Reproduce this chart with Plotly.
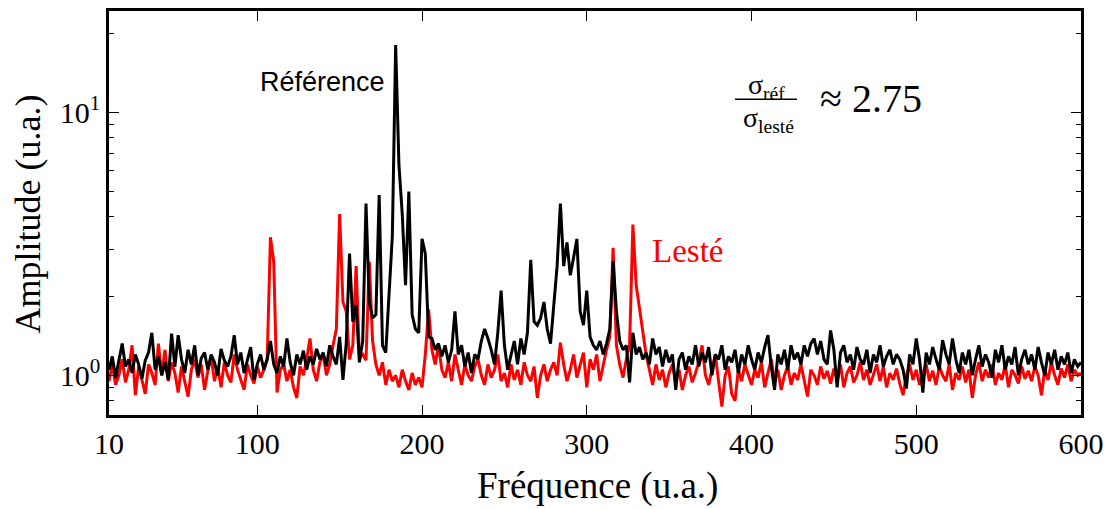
import plotly.graph_objects as go

# Frequency axis (u.a.), sampled every 2 units
freq = list(range(10, 601, 2))

# Référence spectrum (black)
ref = [
    1.05, 1.18, 0.98, 1.12, 1.32, 1.08, 1.15, 1.02, 1.20, 1.10,   # 10-28
    0.97, 1.14, 1.22, 1.45, 1.05, 1.18, 1.00, 1.12, 0.96, 1.44,   # 30-48
    1.08, 1.42, 1.15, 1.02, 1.25, 1.10, 1.30, 1.00, 1.16, 1.22,   # 50-68
    1.05, 1.20, 1.12, 1.00, 1.26, 1.14, 1.08, 1.18, 1.42, 1.10,   # 70-88
    1.22, 1.02, 1.15, 1.28, 0.96, 1.10, 1.20, 1.05, 1.15, 1.35,   # 90-108
    1.10, 1.02, 1.18, 1.08, 1.38, 1.12, 1.00, 1.20, 1.10, 1.24,   # 110-128
    1.05, 1.18, 1.10, 1.26, 1.15, 1.22, 1.08, 1.30, 1.18, 1.10,   # 130-148
    1.40, 0.96, 1.32, 2.90, 1.60, 1.85, 1.12, 1.35, 4.50, 1.90,   # 150-168
    1.65, 1.70, 4.85, 1.30, 1.22, 2.15, 3.40, 18.0, 6.30, 4.10,   # 170-188
    2.20, 5.00, 1.70, 1.50, 1.45, 3.30, 2.90, 1.40, 1.38, 1.25,   # 190-208
    1.32, 1.18, 1.30, 1.12, 1.25, 1.75, 1.20, 1.30, 1.08, 1.22,   # 210-228
    1.02, 1.20, 1.15, 1.35, 1.50, 1.38, 1.25, 1.10, 1.45, 2.10,   # 230-248
    1.30, 1.05, 1.20, 1.35, 1.10, 1.38, 1.20, 1.45, 2.75, 1.60,   # 250-268
    1.55, 1.65, 1.90, 1.50, 1.32, 1.90, 2.60, 4.50, 2.60, 3.20,   # 270-288
    2.40, 2.80, 3.30, 1.75, 1.55, 2.10, 1.40, 1.30, 1.25, 1.35,   # 290-308
    1.20, 1.32, 1.50, 2.72, 1.75, 1.35, 1.25, 1.30, 0.94, 1.45,   # 310-328
    1.20, 1.28, 1.15, 1.22, 1.10, 1.38, 1.20, 1.28, 1.08, 1.25,   # 330-348
    1.12, 1.20, 0.88, 1.15, 1.22, 1.05, 1.18, 1.10, 1.30, 1.08,   # 350-368
    1.22, 1.12, 1.28, 1.00, 1.20, 1.15, 1.30, 1.05, 1.18, 1.12,   # 370-388
    1.25, 1.02, 1.20, 1.10, 1.30, 1.15, 1.05, 1.22, 1.12, 1.28,   # 390-408
    1.42, 1.08, 0.88, 1.20, 1.10, 1.25, 1.05, 1.30, 1.15, 1.22,   # 410-428
    1.10, 1.30, 1.18, 1.32, 1.38, 1.20, 1.35, 1.15, 1.10, 1.48,   # 430-448
    1.25, 0.90, 1.22, 1.30, 1.12, 1.20, 1.05, 1.28, 1.15, 1.10,   # 450-468
    1.25, 1.02, 1.20, 1.12, 1.30, 1.08, 1.18, 1.25, 1.10, 1.20,   # 470-488
    1.15, 1.05, 0.89, 1.20, 1.10, 1.38, 1.15, 0.86, 1.22, 1.10,   # 490-508
    1.28, 1.15, 1.05, 1.36, 1.20, 1.10, 1.38, 1.15, 1.02, 1.22,   # 510-528
    1.10, 1.25, 1.00, 1.15, 1.30, 1.08, 1.20, 1.12, 0.98, 1.25,   # 530-548
    1.12, 1.30, 1.05, 1.18, 1.10, 1.28, 1.00, 1.15, 1.25, 1.10,   # 550-568
    1.20, 1.05, 1.28, 1.12, 1.00, 1.22, 1.10, 1.25, 1.05, 1.18,   # 570-588
    1.10, 1.22, 1.02, 1.15, 1.08, 1.12,                           # 590-600
]

# Lesté spectrum (red)
leste = [
    0.95, 1.10, 0.92, 1.00, 1.15, 0.94, 1.05, 1.30, 0.84, 1.08,   # 10-28
    0.96, 0.85, 1.10, 1.02, 0.92, 1.32, 1.00, 1.25, 0.95, 1.12,   # 30-48
    1.02, 0.86, 1.08, 0.94, 0.83, 1.05, 1.15, 0.98, 1.10, 0.88,   # 50-68
    1.04, 1.18, 0.95, 1.08, 0.90, 1.12, 1.00, 0.94, 1.20, 1.05,   # 70-88
    0.96, 0.88, 1.10, 1.00, 0.93, 1.08, 0.98, 1.05, 1.15, 3.35,   # 90-108
    2.70, 0.86, 1.05, 1.10, 0.95, 1.05, 0.90, 0.82, 1.08, 1.00,   # 110-128
    1.15, 1.38, 1.05, 0.95, 1.12, 1.20, 1.00, 1.10, 1.30, 1.50,   # 130-148
    4.10, 1.90, 1.75, 1.15, 1.30, 2.60, 1.17, 1.20, 1.14, 2.70,   # 150-168
    1.35, 1.10, 1.00, 1.12, 0.92, 1.05, 0.95, 1.00, 0.90, 1.05,   # 170-188
    0.95, 0.88, 1.02, 0.92, 0.98, 0.90, 1.20, 1.78, 1.25, 1.10,   # 190-208
    1.30, 1.05, 0.98, 1.12, 0.95, 1.20, 1.05, 0.92, 1.10, 1.00,   # 210-228
    0.95, 1.08, 1.15, 1.00, 0.92, 1.10, 0.98, 1.05, 1.20, 0.95,   # 230-248
    1.02, 0.90, 1.10, 0.96, 1.05, 0.92, 1.12, 1.00, 0.95, 1.08,   # 250-268
    0.82, 1.00, 1.10, 0.95, 1.05, 1.12, 1.00, 1.33, 1.10, 0.95,   # 270-288
    1.05, 1.20, 0.98, 1.10, 1.22, 0.90, 1.15, 1.05, 1.20, 0.95,   # 290-308
    1.10, 1.25, 1.40, 3.05, 1.30, 1.10, 0.98, 1.15, 1.30, 3.74,   # 310-328
    2.20, 1.78, 1.48, 1.20, 1.05, 0.92, 1.10, 0.96, 1.05, 0.90,   # 330-348
    1.02, 1.10, 0.95, 1.05, 0.88, 1.00, 1.08, 0.94, 1.02, 1.12,   # 350-368
    1.30, 1.00, 0.92, 1.05, 1.20, 0.95, 0.76, 1.00, 1.08, 0.85,   # 370-388
    0.80, 1.05, 0.95, 1.10, 1.00, 0.92, 1.05, 0.98, 1.12, 0.90,   # 390-408
    1.02, 1.15, 0.95, 1.05, 0.88, 1.00, 1.08, 0.92, 1.02, 0.96,   # 410-428
    1.10, 0.95, 0.83, 1.05, 1.00, 0.92, 1.08, 0.97, 1.04, 0.93,   # 430-448
    1.06, 0.95, 1.10, 0.90, 1.02, 1.08, 0.94, 1.00, 1.12, 0.96,   # 450-468
    1.05, 0.92, 1.00, 1.10, 0.95, 1.08, 0.90, 1.02, 0.96, 1.06,   # 470-488
    0.93, 0.84, 1.00, 1.10, 0.96, 1.05, 0.92, 1.02, 1.10, 0.95,   # 490-508
    1.04, 0.92, 1.08, 1.00, 0.95, 1.10, 0.88, 1.02, 0.96, 1.08,   # 510-528
    0.94, 1.05, 0.82, 1.00, 1.12, 0.95, 1.05, 0.98, 1.10, 0.92,   # 530-548
    1.02, 0.96, 1.10, 0.90, 1.05, 1.00, 0.93, 1.08, 0.97, 1.04,   # 550-568
    0.95, 1.08, 1.00, 0.84, 1.05, 0.96, 1.12, 1.00, 0.92, 1.06,   # 570-588
    0.98, 1.10, 0.95, 1.05, 1.00, 1.02,                           # 590-600
]

x_ticks = [10, 100, 200, 300, 400, 500, 600]
y_ticks = [1, 10]
y_ticktext = ["10<sup>0</sup>", "10<sup>1</sup>"]
y_minor = [0.8, 0.9, 2, 3, 4, 5, 6, 7, 8, 9, 20]

SERIF = "Liberation Serif, Times New Roman, serif"
SANS = "Liberation Sans, Arial, sans-serif"

fig = go.Figure()
fig.add_trace(go.Scatter(x=freq, y=leste, mode="lines", name="Lesté",
                         line=dict(color="#ff0000", width=3)))
fig.add_trace(go.Scatter(x=freq, y=ref, mode="lines", name="Référence",
                         line=dict(color="#000000", width=3)))

# The page body has an 8px margin; figure is sized to fit inside the window.
OFF = 8
W, H = 1112 - OFF, 509 - OFF
L, R, T, B = 101, 31, 0, 94
pw, ph = W - L - R, H - T - B


def px(xp):
    return (xp - OFF - L) / pw


def py(yp):
    return (H - B - (yp - OFF)) / ph


fig.update_layout(
    width=W, height=H,
    margin=dict(l=L, r=R, t=T, b=B),
    paper_bgcolor="white", plot_bgcolor="white",
    showlegend=False,
    xaxis=dict(
        range=[10, 600], tickvals=x_ticks, ticktext=[str(v) for v in x_ticks],
        ticks="inside", ticklen=10, tickwidth=1.2, tickcolor="black",
        showline=True, linecolor="black", linewidth=2.5, mirror="ticks",
        showgrid=False, zeroline=False,
        tickfont=dict(family=SERIF, size=30, color="black"),
    ),
    yaxis=dict(
        type="log", range=[-0.151, 1.385],
        tickvals=y_ticks, ticktext=y_ticktext,
        ticks="inside", ticklen=10, tickwidth=1.2, tickcolor="black",
        minor=dict(tickvals=y_minor, ticks="inside", ticklen=5,
                   tickwidth=1.2, tickcolor="black", showgrid=False),
        showline=True, linecolor="black", linewidth=2.5, mirror="ticks",
        showgrid=False, zeroline=False,
        tickfont=dict(family=SERIF, size=30, color="black"),
    ),
)

ann = [
    dict(text="Référence", x=px(322), y=py(80), font=dict(family=SANS, size=27, color="black")),
    dict(text="Lesté", x=px(687), y=py(250), font=dict(family=SERIF, size=33, color="#ff0000")),
    dict(text="σ<sub>réf</sub>", x=px(766), y=py(84), font=dict(family=SERIF, size=28, color="black")),
    dict(text="σ<sub>lesté</sub>", x=px(768), y=py(117), font=dict(family=SERIF, size=28, color="black")),
    dict(text="≈ 2.75", x=px(871), y=py(96), font=dict(family=SERIF, size=40, color="black")),
    dict(text="Fréquence (u.a.)", x=px(597), y=py(487), font=dict(family=SERIF, size=37, color="black")),
    dict(text="Amplitude (u.a.)", x=px(28), y=py(213), textangle=-90,
         font=dict(family=SERIF, size=36, color="black")),
]
for a in ann:
    fig.add_annotation(xref="paper", yref="paper", showarrow=False,
                       xanchor="center", yanchor="middle", **a)

fig.add_shape(type="line", xref="paper", yref="paper",
              x0=px(735), x1=px(797), y0=py(97), y1=py(97),
              line=dict(color="black", width=1.5))

fig.write_html("out.html")
